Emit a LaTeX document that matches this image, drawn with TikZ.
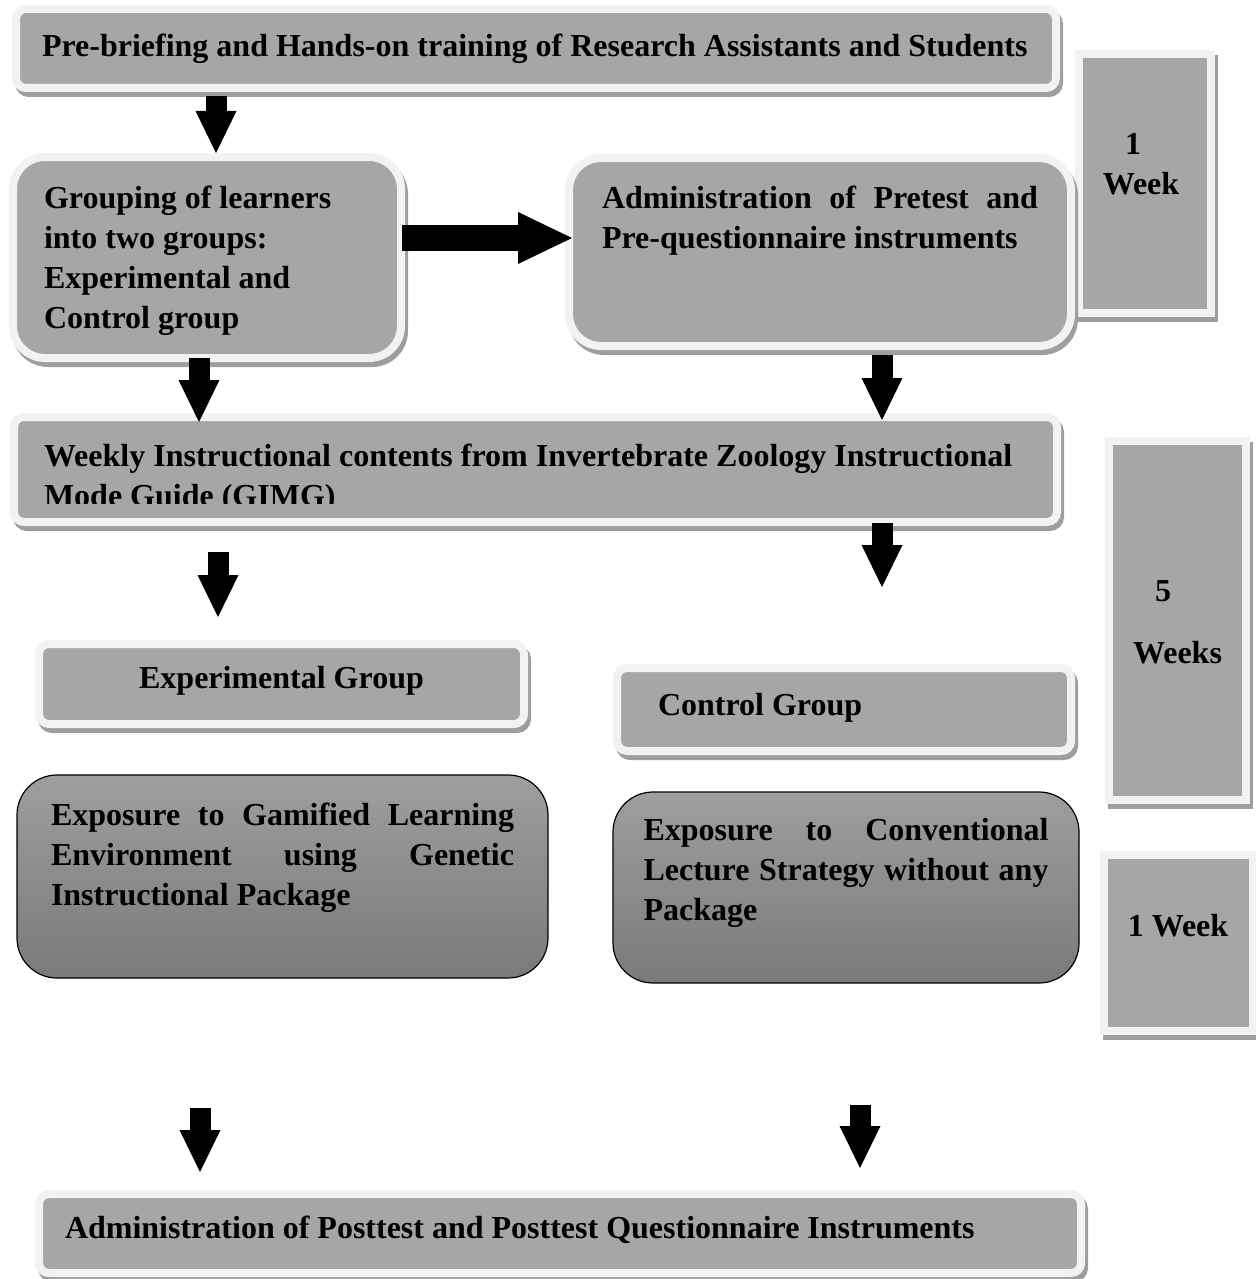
\documentclass[tikz,border=0pt]{standalone}
\usepackage{fontspec}
\setmainfont{Liberation Serif}
\usetikzlibrary{arrows.meta,shadows}
\definecolor{boxgray}{RGB}{166,166,166}
\definecolor{rimgray}{RGB}{242,242,242}
\definecolor{shadegray}{RGB}{158,158,158}
\definecolor{gradtop}{RGB}{158,158,158}
\definecolor{gradbot}{RGB}{122,122,122}
\hyphenpenalty=10000
\exhyphenpenalty=10000
\tolerance=10000
\hbadness=10000
\begin{document}
\begin{tikzpicture}[x=1pt,y=-1pt,
  boxtext/.style={font=\fontsize{16}{20}\selectfont\bfseries, anchor=north west, outer sep=0pt, inner ysep=0pt},
  softbox/.style={boxtext, fill=boxgray, draw=rimgray, line width=4pt, rounded corners=5pt,
    drop shadow={shadow xshift=1.5pt, shadow yshift=-2.5pt, fill=shadegray, draw=shadegray, line width=4pt, opacity=1}},
  weekbox/.style={softbox, sharp corners, align=flush center},
  gradbox/.style={boxtext, top color=gradtop, bottom color=gradbot, draw=black, line width=0.6pt, rounded corners=20pt, align=justify},
  downarrow/.style={line width=10.5pt, -{Triangle[width=20.5pt,length=21pt,line width=0pt]}},
  sidearrow/.style={line width=13pt, -{Triangle[width=26pt,length=27pt,line width=0pt]}}]
% page is 628pt x 639.5pt, y runs downwards
\useasboundingbox (0,0) rectangle (628,639.5);

% first week
\node[softbox, text width=494pt, inner xsep=13pt, text height=24pt, text depth=15.5pt, align=flush left] (prebrief) at (8,4.5) {\mbox{Pre-briefing and Hands-on training of Research Assistants and Students}};
\node[weekbox, text width=66pt, inner xsep=0pt, text height=50.25pt, text depth=79pt] (weekone) at (539.5,27.25) {\hspace*{-12pt}1\\\hspace*{-4pt}Week};
\node[softbox, rounded corners=16pt, text width=163pt, inner xsep=15.5pt, text height=25.5pt, text depth=75pt, align=flush left] (grouping) at (6.5,78.5) {Grouping of learners\\into two groups:\\Experimental and\\Control group};
\node[softbox, rounded corners=16pt, text width=218pt, inner xsep=16.5pt, text height=25pt, text depth=69pt, align=justify] (pretest) at (284.5,79) {Administration of Pretest and Pre-questionnaire instruments};

% five weeks of teaching
\node[softbox, minimum width=521.5pt, minimum height=52.5pt] (weekly) at (7,208.5) {};
\begin{scope}
\clip (weekly.north west) rectangle ([yshift=9.5pt]weekly.south east);
\node[boxtext, text width=491.5pt, inner xsep=15pt, text height=24.5pt, align=flush left] (weeklytext) at (weekly.north west) {Weekly Instructional contents from Invertebrate Zoology Instructional\\Mode Guide (GIMG)};
\end{scope}
\node[weekbox, text width=68.5pt, inner xsep=0pt, text height=80pt, text depth=99.5pt] (weekfive) at (554.5,220.5) {\hspace*{-14.5pt}5\\[11pt]Weeks};
\node[softbox, text width=222.5pt, inner xsep=10pt, text height=22pt, text depth=18pt, align=flush center] (expgroup) at (19.5,322) {Experimental Group};
\node[softbox, text width=186pt, inner xsep=20.5pt, text height=23.5pt, text depth=18pt, align=flush left] (ctrlgroup) at (308.5,334) {Control Group};
\node[gradbox, text width=231.5pt, inner xsep=17pt, text height=25pt, text depth=76.5pt] (gamified) at (8.5,387.5) {Exposure to Gamified Learning Environment using Genetic Instructional Package};
\node[gradbox, text width=202.5pt, inner xsep=15.25pt, text height=24pt, text depth=71.5pt] (lecture) at (306.5,396) {Exposure to Conventional Lecture Strategy without any Package};

% last week
\node[weekbox, text width=74.5pt, inner xsep=0pt, text height=40.5pt, text depth=47.5pt] (weeklast) at (551.75,427.5) {1 Week};
\node[softbox, text width=495pt, inner xsep=13pt, text height=22pt, text depth=17.5pt, align=flush left] (posttest) at (19.5,597) {Administration of Posttest and Posttest Questionnaire Instruments};

% block arrows
\draw[downarrow] ([xshift=-160pt,yshift=-4pt]prebrief.south) -- ([xshift=4.5pt,yshift=2pt]grouping.north);
\draw[sidearrow] ([xshift=0.5pt,yshift=9.75pt]grouping.east) -- ([xshift=1.5pt,yshift=7pt]pretest.west);
\draw[downarrow] ([xshift=-4pt]grouping.south) -- ([xshift=-168.25pt,yshift=-2.5pt]weekly.north);
\draw[downarrow] ([xshift=31pt,yshift=-4.5pt]pretest.south) -- ([xshift=173.25pt,yshift=-1.5pt]weekly.north);
\draw[downarrow] ([xshift=-158.75pt,yshift=-15pt]weekly.south) -- ([xshift=-31.75pt,yshift=13.5pt]expgroup.north);
\draw[downarrow] ([xshift=173.25pt,yshift=-0.5pt]weekly.south) -- ([xshift=19pt,yshift=40.5pt]ctrlgroup.north);
\draw[downarrow] ([xshift=-41.25pt,yshift=-65pt]gamified.south) -- ([xshift=-180pt,yshift=11pt]posttest.north);
\draw[downarrow] ([xshift=7pt,yshift=-61pt]lecture.south) -- ([xshift=150pt,yshift=13pt]posttest.north);
\end{tikzpicture}
\end{document}
